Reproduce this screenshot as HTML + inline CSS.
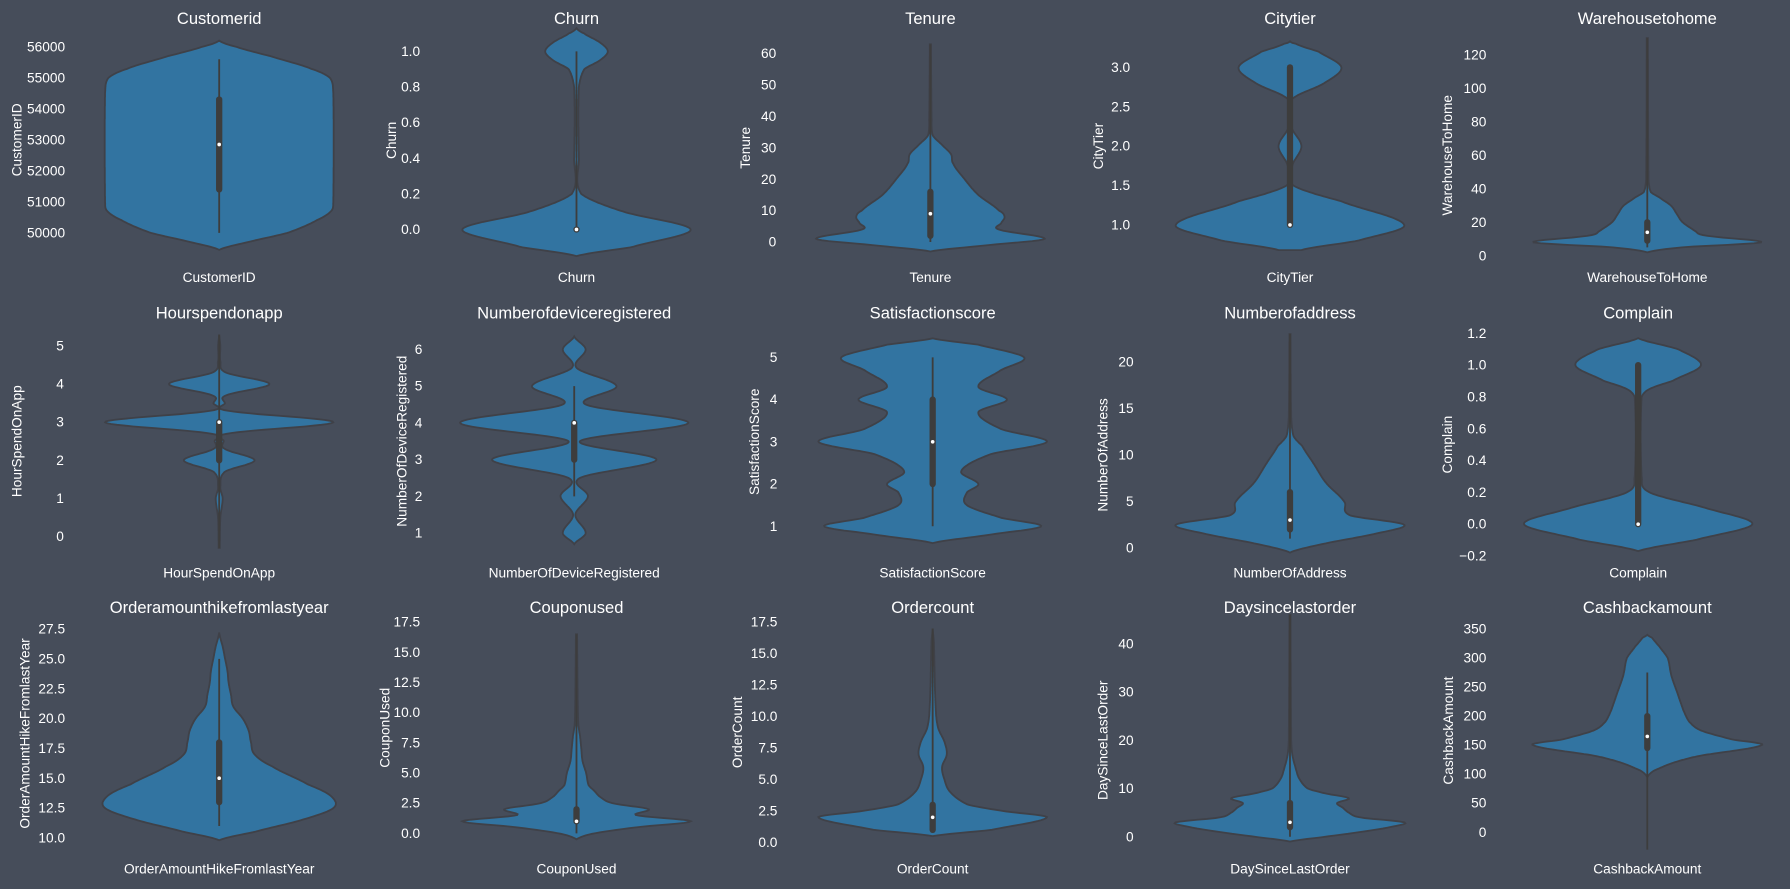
<!DOCTYPE html>
<html><head><meta charset="utf-8">
<style>
body{margin:0;background:#464d5a;}
svg{display:block;font-family:"Liberation Sans",sans-serif;}
</style></head>
<body>
<svg id="chart" width="1790" height="889" xmlns="http://www.w3.org/2000/svg">
<rect width="1790" height="889" fill="#464d5a"/>
<g id="root" transform="scale(1.14158)"></g>
</svg>
<script>
const titles=["Customerid","Churn","Tenure","Citytier","Warehousetohome","Hourspendonapp","Numberofdeviceregistered","Satisfactionscore","Numberofaddress","Complain","Orderamounthikefromlastyear","Couponused","Ordercount","Daysincelastorder","Cashbackamount"];
const ylabels=["CustomerID","Churn","Tenure","CityTier","WarehouseToHome","HourSpendOnApp","NumberOfDeviceRegistered","SatisfactionScore","NumberOfAddress","Complain","OrderAmountHikeFromlastYear","CouponUsed","OrderCount","DaySinceLastOrder","CashbackAmount"];
const ticks=[
[50000,51000,52000,53000,54000,55000,56000],[0.0,0.2,0.4,0.6,0.8,1.0],[0,10,20,30,40,50,60],[1.0,1.5,2.0,2.5,3.0],[0,20,40,60,80,100,120],
[0,1,2,3,4,5],[1,2,3,4,5,6],[1,2,3,4,5],[0,5,10,15,20],[-0.2,0.0,0.2,0.4,0.6,0.8,1.0,1.2],
[10.0,12.5,15.0,17.5,20.0,22.5,25.0,27.5],[0.0,2.5,5.0,7.5,10.0,12.5,15.0,17.5],[0.0,2.5,5.0,7.5,10.0,12.5,15.0,17.5],[0,10,20,30,40],[0,50,100,150,200,250,300,350]];
const tickDec=[0,1,0,1,0,0,0,0,0,1,1,1,1,0,0];
const densY=[
[49450,49700,50000,50400,50700,51000,54500,55000,55300,55700,56000,56200],
[-0.15,-0.1,0,0.1,0.2,0.4,0.8,0.9,0.95,1.0,1.05,1.1,1.13],
[-3,-1,1,4,6,8,10,15,20,25,28,31,34,40,63],
[0.68,0.8,1.0,1.3,1.5,1.75,2.0,2.25,2.6,2.8,3.0,3.2,3.3,3.33],
[2,5,8,12,15,20,25,30,35,38,45,130],
[-0.3,0.5,1,1.3,1.7,2.0,2.3,2.5,2.7,3.0,3.3,3.5,3.7,4.0,4.3,4.6,5.0,5.3],
[0.7,1.0,1.5,2.0,2.5,3.0,3.5,4.0,4.5,5.0,5.5,6.0,6.35],
[0.6,0.8,1.0,1.2,1.5,1.8,2.0,2.3,2.7,3.0,3.3,3.7,4.0,4.3,4.7,5.0,5.3,5.45],
[-0.5,0.5,1.5,2.5,3.5,5,7,9,11,12,14,23],
[-0.17,-0.1,0,0.1,0.2,0.3,0.8,0.85,0.9,1.0,1.1,1.17],
[9.8,10.5,11.5,12.5,13.5,14.5,16,17,18,19,20,21,22,23,24,25,26,27.2],
[-0.5,0,0.5,1.0,1.5,2.0,2.5,3,3.5,4,5,6,7,8,9,11,16.5],
[0.5,1,2,2.5,3,4,5,6,7,8,9,10,12,14,16,17],
[-1,0,1,2,3,4,5,6,7,8,9,10,12,14,17,20,46],
[95,110,130,150,160,175,190,210,240,270,300,320,335,340]];
const densW=[
[0,0.25,0.6,0.85,0.98,1,1,0.97,0.8,0.45,0.15,0],
[0,0.35,0.73,0.3,0.03,0.015,0.015,0.05,0.15,0.2,0.15,0.05,0],
[0,0.5,1.0,0.6,0.62,0.65,0.6,0.42,0.3,0.2,0.18,0.1,0.02,0.01,0.005],
[0.1,0.6,1.0,0.45,0.03,0.02,0.1,0.01,0.02,0.3,0.45,0.25,0.05,0],
[0,0.3,0.97,0.5,0.4,0.3,0.25,0.2,0.1,0.03,0.01,0.005],
[0.005,0.01,0.03,0.01,0.05,0.31,0.05,0.04,0.08,1.0,0.08,0.05,0.06,0.44,0.06,0.01,0.01,0],
[0,0.1,0.01,0.12,0.05,0.72,0.05,1.0,0.1,0.37,0.02,0.1,0],
[0,0.5,0.95,0.6,0.3,0.3,0.4,0.25,0.5,1.0,0.6,0.4,0.65,0.4,0.6,0.8,0.4,0],
[0,0.3,0.7,0.95,0.5,0.45,0.3,0.2,0.1,0.03,0.01,0.005],
[0,0.5,1.0,0.6,0.1,0.03,0.03,0.1,0.3,0.55,0.35,0],
[0,0.3,0.7,0.97,0.95,0.75,0.45,0.3,0.27,0.25,0.2,0.12,0.1,0.08,0.07,0.05,0.03,0],
[0,0.15,0.5,0.95,0.5,0.6,0.3,0.2,0.15,0.1,0.08,0.05,0.04,0.03,0.015,0.01,0.005],
[0,0.5,0.97,0.6,0.3,0.15,0.1,0.08,0.12,0.1,0.05,0.03,0.02,0.015,0.01,0],
[0,0.3,0.6,0.85,0.97,0.6,0.5,0.45,0.4,0.5,0.3,0.15,0.08,0.05,0.02,0.01,0.005],
[0,0.1,0.4,0.95,0.7,0.45,0.35,0.3,0.25,0.2,0.17,0.1,0.04,0]];
const boxQ1=[51400,0,2,1,9,2,3,2,2,0,13,1,1,2,145];
const boxQ3=[54300,0,16,3,20,3,4,4,6,1,18,2,3,7,200];
const boxMed=[52850,0,9,1,14,3,4,3,3,0,15,1,2,3,165];
const whiskLo=[50000,0,0,1,5,-0.3,2,1,1,0,11,0,1,0,-30];
const whiskHi=[55600,1,63,3,130,5.3,5,5,23,1,25,16.5,17,46,275];
/* layout (not data), in 1568-wide design units */
const anchors=[[56000,41,50000,204],[1,45,0,201],[60,47,0,212],[3,59,1,197],[120,48,0,224],
[5,303,0,470],[6,306,1,467],[5,313,1,461],[20,317,0,480],[1.2,292,-0.2,487],
[27.5,551,10,734],[17.5,545,0,730],[17.5,545,0,738],[40,564,0,733],[350,551,0,729]];
const centers=[192,505,815,1130,1443,192,503,817,1130,1435,192,505,817,1130,1443];
const tickX=[57,368,680,990,1302,56,370,681,993,1302,57,368,681,993,1302];
const ylabX=[15,343,653,962,1268,15,352,661,966,1268,22,337,646,966,1269];
const rowTop=[15,273,531], rowX=[247,506,765];
const root=document.getElementById('root');
const NS='http://www.w3.org/2000/svg';
function mk(t,a,p){const e=document.createElementNS(NS,t);for(const k in a)e.setAttribute(k,a[k]);(p||root).appendChild(e);return e;}
function txt(s,a,p){const e=mk('text',a,p);e.textContent=s;return e;}
function interp(ys,ws,v){
  for(let i=0;i<ys.length-1;i++){if(v>=ys[i]&&v<=ys[i+1]){
    const t=(v-ys[i])/(ys[i+1]-ys[i]);
    const p0=ws[Math.max(i-1,0)],p1=ws[i],p2=ws[i+1],p3=ws[Math.min(i+2,ws.length-1)];
    const t2=t*t,t3=t2*t;
    const r=0.5*((2*p1)+(-p0+p2)*t+(2*p0-5*p1+4*p2-p3)*t2+(-p0+3*p1-3*p2+p3)*t3);
    return Math.max(0,r);}}
  return 0;}
for(let i=0;i<15;i++){
  const r=Math.floor(i/5);
  const g=mk('g',{});
  
  
  const [v1,p1,v2,p2]=anchors[i];
  const Y=v=>p1+(v-v1)*(p2-p1)/(v2-v1);
  const cx=centers[i], H=100;
  const t=txt(titles[i],{x:cx,y:rowTop[r]+6,fill:'#fff','font-size':14.5,'text-anchor':'middle'},g);
  
  const tg=mk('g',{},g);
  
  ticks[i].forEach(v=>{txt(v.toFixed(tickDec[i]).replace('-','\u2212'),{x:tickX[i],y:Y(v)+4,fill:'#fff','font-size':12,'text-anchor':'end'},tg);});
  const yl=txt(ylabels[i],{x:0,y:0,fill:'#fff','font-size':12,'text-anchor':'middle',transform:`translate(${ylabX[i]+4},${(p1+p2)/2}) rotate(-90)`},g);
  
  const xl=txt(ylabels[i],{x:cx,y:rowX[r],fill:'#fff','font-size':12,'text-anchor':'middle'},g);
  
  const ys=densY[i],ws=densW[i],lo=ys[0],hi=ys[ys.length-1],N=260;
  const mx=Math.max(...ws);
  let right=[],left=[];
  for(let k=0;k<=N;k++){const v=lo+(hi-lo)*k/N;const w=interp(ys,ws,v)/mx*H;right.push([cx+w,Y(v)]);left.push([cx-w,Y(v)]);}
  const pts=right.concat(left.reverse());
  const path=mk('path',{d:'M'+pts.map(p=>p[0].toFixed(1)+','+p[1].toFixed(1)).join('L')+'Z',fill:'#3274a1',stroke:'#3f4148','stroke-width':1.6},g);
  
  const wl=mk('line',{x1:cx,x2:cx,y1:Y(whiskLo[i]),y2:Y(whiskHi[i]),stroke:'#3d3d3d','stroke-width':1.6},g);
  
  const b=mk('line',{x1:cx,x2:cx,y1:Y(boxQ1[i]),y2:Y(boxQ3[i]),stroke:'#3d3d3d','stroke-width':5.5,'stroke-linecap':'round'},g);
  
  const m=mk('circle',{cx:cx,cy:Y(boxMed[i]),r:1.6,fill:'#fff'},g);
  
}
</script>
</body></html>
